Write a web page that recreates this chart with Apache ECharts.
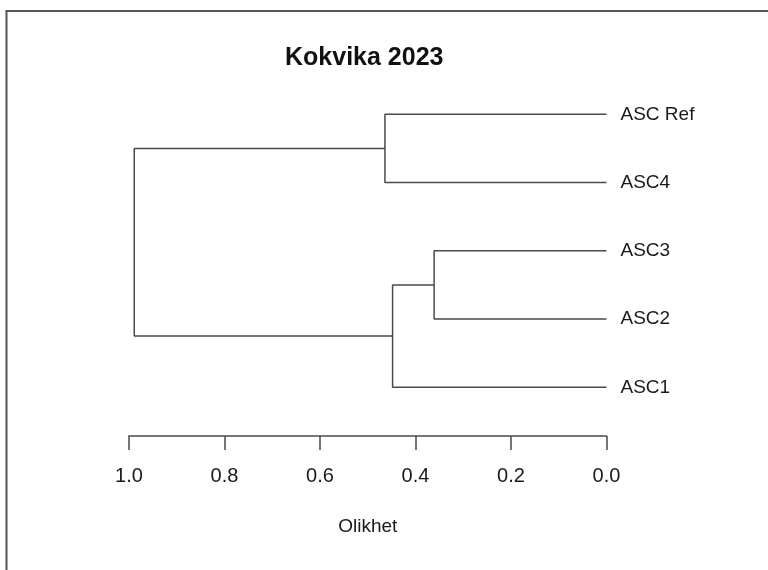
<!DOCTYPE html>
<html>
<head>
<meta charset="utf-8">
<script src="https://cdn.jsdelivr.net/npm/echarts@6/dist/echarts.min.js"></script>
<style>
  html, body { margin: 0; padding: 0; background: #fff; }
  #chart { width: 768px; height: 570px; }
</style>
</head>
<body>
<div id="chart"></div>
<script>
// leaves from top to bottom
const leafLabels = ['ASC Ref', 'ASC4', 'ASC3', 'ASC2', 'ASC1'];
// hclust style merges: negative = leaf (1-based), positive = earlier merge
const mergeLeft = [-3, 1, -1, 3];
const mergeRight = [-4, -5, -2, 2];
const mergeHeight = [0.361, 0.448, 0.464, 0.989];
const tickValues = [0, 0.2, 0.4, 0.6, 0.8, 1.0];

const leafY = leafLabels.map((d, i) => leafLabels.length - i);
const nodeY = [];
const nodeH = [];

function childPos(id) {
    if (id < 0) return [0, leafY[-id - 1]];
    return [nodeH[id - 1], nodeY[id - 1]];
}

const lineColor = '#4a4a4a';
const textColor = '#1a1a1a';
const series = [];
mergeHeight.forEach((h, i) => {
    const a = childPos(mergeLeft[i]);
    const b = childPos(mergeRight[i]);
    nodeH.push(h);
    nodeY.push((a[1] + b[1]) / 2);
    series.push({
        type: 'line',
        symbol: 'none',
        silent: true,
        lineStyle: {color: lineColor, width: 1.5},
        data: [[a[0], a[1]], [h, a[1]], [h, b[1]], [b[0], b[1]]]
    });
});

series.push({
    type: 'scatter',
    symbolSize: 0,
    silent: true,
    itemStyle: {opacity: 1},
    data: leafLabels.map((name, i) => ({name: name, value: [0, leafY[i]]})),
    label: {
        show: true,
        position: 'right',
        distance: 14,
        formatter: p => p.name,
        color: textColor,
        opacity: 1,
        fontSize: 19,
        fontFamily: 'Liberation Sans'
    }
});

const chart = echarts.init(document.getElementById('chart'), null, {renderer: 'canvas'});
chart.setOption({
    animation: false,
    backgroundColor: '#fff',
    title: {
        text: 'Kokvika 2023',
        left: 285,
        top: 46,
        padding: 0,
        textStyle: {fontSize: 25, fontWeight: 'bold', color: '#111', fontFamily: 'Liberation Sans'}
    },
    graphic: [{
        type: 'rect',
        shape: {x: 6.5, y: 11, width: 800, height: 600},
        style: {fill: 'none', stroke: '#555', lineWidth: 2},
        silent: true
    }],
    grid: {left: 129, right: 161.5, top: 80.2, bottom: 134},
    xAxis: {
        type: 'value',
        inverse: true,
        min: 0,
        max: 1,
        interval: 0.2,
        name: 'Olikhet',
        nameLocation: 'middle',
        nameGap: 81,
        nameTextStyle: {fontSize: 19, color: textColor, fontFamily: 'Liberation Sans'},
        axisLine: {show: true, lineStyle: {color: lineColor, width: 1.5}},
        axisTick: {show: true, length: 14, lineStyle: {color: lineColor, width: 1.5}},
        axisLabel: {
            margin: 30,
            fontSize: 20,
            color: textColor,
            fontFamily: 'Liberation Sans',
            formatter: v => v.toFixed(1),
            customValues: tickValues
        },
        splitLine: {show: false}
    },
    yAxis: {
        type: 'value',
        min: 0.2864,
        max: 5.5,
        show: false
    },
    series: series
});
</script>
</body>
</html>
